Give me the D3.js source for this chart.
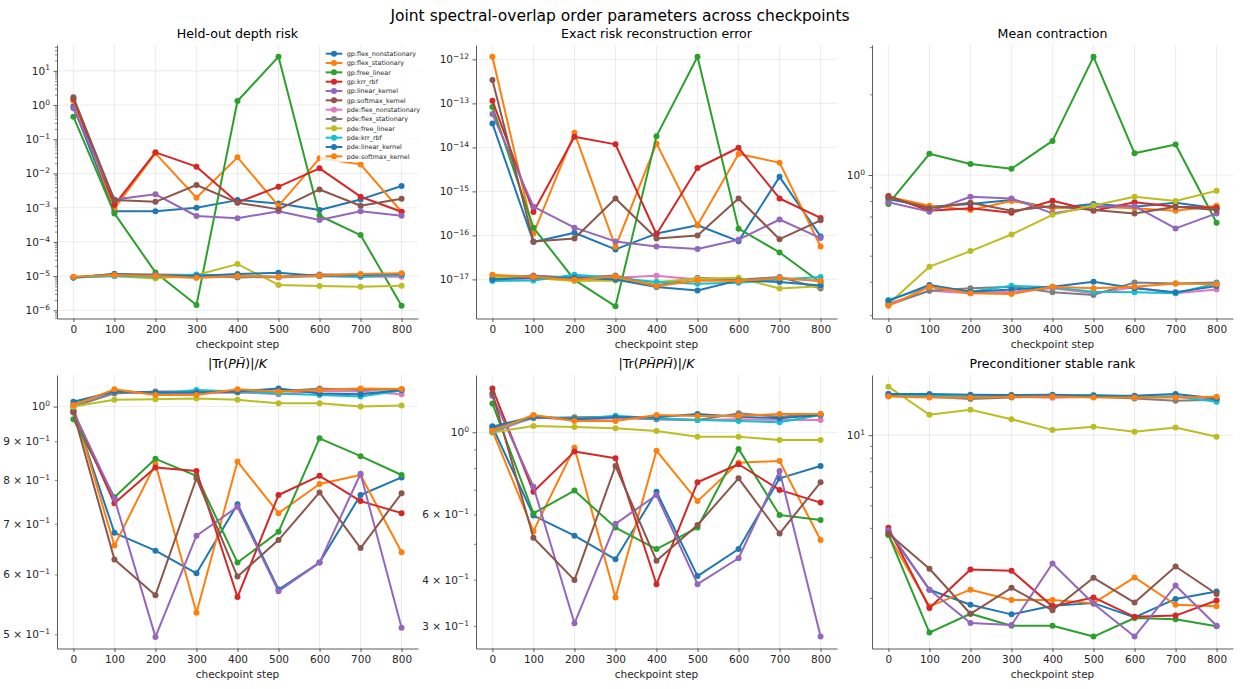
<!DOCTYPE html>
<html><head><meta charset="utf-8">
<script src="https://cdn.jsdelivr.net/npm/d3@7"></script>
<style>body{margin:0;background:#fff} svg{display:block} text{font-family:"DejaVu Sans",sans-serif}</style>
</head><body><svg id="c" width="1240" height="689"></svg>
<script>
// ---------------- data ----------------
const steps = [0, 100, 200, 300, 400, 500, 600, 700, 800];
const seriesNames = ["gp:flex_nonstationary","gp:flex_stationary","gp:free_linear","gp:krr_rbf","gp:linear_kernel","gp:softmax_kernel",
  "pde:flex_nonstationary","pde:flex_stationary","pde:free_linear","pde:krr_rbf","pde:linear_kernel","pde:softmax_kernel"];
const seriesColors = ["#1f77b4","#ff7f0e","#2ca02c","#d62728","#9467bd","#8c564b","#e377c2","#7f7f7f","#bcbd22","#17becf","#1f77b4","#ff7f0e"];

const heldOutDepthRisk = [
  [0.9, 7.9e-4, 7.9e-4, 1.0e-3, 1.66e-3, 1.33e-3, 8.5e-4, 1.74e-3, 4.3e-3],
  [1.3, 9.5e-4, 0.0386, 1.95e-3, 0.0295, 1.12e-3, 0.0276, 0.0184, 7.6e-4],
  [0.456, 6.8e-4, 1.28e-5, 1.42e-6, 1.31, 25.9, 5.8e-4, 1.58e-4, 1.35e-6],
  [1.5, 1.2e-3, 0.0413, 0.0158, 1.42e-3, 4.1e-3, 0.0141, 2.09e-3, 7.6e-4],
  [0.80, 1.74e-3, 2.45e-3, 5.7e-4, 4.9e-4, 7.9e-4, 4.35e-4, 7.9e-4, 5.8e-4],
  [1.68, 1.66e-3, 1.48e-3, 4.6e-3, 1.4e-3, 8.9e-4, 3.4e-3, 1.14e-3, 1.83e-3],
  [9.1e-6, 1.07e-5, 9.6e-6, 9.1e-6, 9.6e-6, 9.1e-6, 1.0e-5, 9.6e-6, 9.6e-6],
  [9.1e-6, 1.15e-5, 1.12e-5, 1.07e-5, 9.1e-6, 9.6e-6, 1.12e-5, 1.12e-5, 1.15e-5],
  [9.1e-6, 1.0e-5, 8.5e-6, 1.07e-5, 2.24e-5, 5.5e-6, 5.1e-6, 4.9e-6, 5.2e-6],
  [9.1e-6, 1.0e-5, 9.6e-6, 1.12e-5, 1.0e-5, 9.6e-6, 1.0e-5, 9.6e-6, 1.07e-5],
  [9.1e-6, 1.15e-5, 1.02e-5, 1.0e-5, 1.15e-5, 1.25e-5, 1.0e-5, 1.07e-5, 1.15e-5],
  [9.6e-6, 1.07e-5, 1.0e-5, 8.9e-6, 1.0e-5, 9.6e-6, 1.02e-5, 1.15e-5, 1.2e-5]
];
const exactRiskError = [
  [3.5e-14, 7.1e-17, 1.15e-16, 4.8e-17, 1.1e-16, 1.7e-16, 7.4e-17, 2.14e-15, 9.5e-17],
  [1.15e-12, 1.1e-16, 2.14e-14, 5.5e-17, 1.23e-14, 1.7e-16, 7.1e-15, 4.5e-15, 5.6e-17],
  [8.3e-14, 1.5e-16, 9.8e-18, 2.45e-18, 1.8e-14, 1.15e-12, 1.42e-16, 4.1e-17, 8.5e-18],
  [1.15e-13, 3.4e-16, 1.74e-14, 1.17e-14, 1.06e-16, 3.4e-15, 9.8e-15, 6.9e-16, 2.5e-16],
  [5.7e-14, 4.5e-16, 1.5e-16, 7.3e-17, 5.6e-17, 4.9e-17, 8.0e-17, 2.3e-16, 8.7e-17],
  [3.4e-13, 7.3e-17, 8.5e-17, 6.9e-16, 8.5e-17, 1.0e-16, 6.9e-16, 8.2e-17, 2.2e-16],
  [1.03e-17, 1.03e-17, 1.13e-17, 1.09e-17, 1.21e-17, 1.0e-17, 9.5e-18, 1.09e-17, 9.2e-18],
  [1.09e-17, 1.23e-17, 1.09e-17, 1.23e-17, 7.3e-18, 1.09e-17, 9.8e-18, 1.13e-17, 6.2e-18],
  [1.13e-17, 1.07e-17, 9.2e-18, 9.5e-18, 8.7e-18, 1.03e-17, 1.09e-17, 6.2e-18, 7.0e-18],
  [9.2e-18, 9.5e-18, 1.28e-17, 1.09e-17, 8.7e-18, 8.0e-18, 8.4e-18, 1.0e-17, 1.13e-17],
  [1.0e-17, 1.09e-17, 1.09e-17, 1.0e-17, 6.7e-18, 5.6e-18, 9.5e-18, 8.7e-18, 7.3e-18],
  [1.28e-17, 1.13e-17, 9.8e-18, 1.17e-17, 7.0e-18, 9.5e-18, 9.2e-18, 1.07e-17, 9.2e-18]
];
const meanContraction = [
  [0.811, 0.762, 0.779, 0.807, 0.751, 0.779, 0.762, 0.788, 0.751],
  [0.830, 0.768, 0.740, 0.800, 0.751, 0.762, 0.751, 0.736, 0.768],
  [0.78, 1.20, 1.10, 1.055, 1.34, 2.76, 1.205, 1.30, 0.664],
  [0.835, 0.736, 0.751, 0.723, 0.802, 0.736, 0.791, 0.762, 0.755],
  [0.791, 0.730, 0.830, 0.818, 0.719, 0.762, 0.766, 0.632, 0.719],
  [0.825, 0.751, 0.788, 0.736, 0.766, 0.740, 0.719, 0.762, 0.740],
  [0.332, 0.370, 0.362, 0.367, 0.378, 0.362, 0.381, 0.362, 0.374],
  [0.327, 0.370, 0.378, 0.383, 0.365, 0.357, 0.397, 0.394, 0.397],
  [0.33, 0.455, 0.52, 0.60, 0.71, 0.77, 0.83, 0.80, 0.874],
  [0.342, 0.383, 0.367, 0.386, 0.381, 0.367, 0.365, 0.362, 0.394],
  [0.339, 0.389, 0.367, 0.374, 0.383, 0.400, 0.378, 0.365, 0.385],
  [0.325, 0.383, 0.362, 0.360, 0.383, 0.378, 0.383, 0.394, 0.391]
];
const traceOverlap = [
  [0.99, 0.681, 0.645, 0.602, 0.743, 0.573, 0.622, 0.764, 0.806],
  [1.0, 0.655, 0.840, 0.534, 0.846, 0.723, 0.790, 0.812, 0.642],
  [0.962, 0.759, 0.853, 0.810, 0.622, 0.683, 0.908, 0.860, 0.812],
  [0.985, 0.745, 0.831, 0.822, 0.560, 0.764, 0.810, 0.750, 0.723],
  [0.985, 0.756, 0.496, 0.675, 0.737, 0.570, 0.622, 0.815, 0.510],
  [0.982, 0.628, 0.563, 0.804, 0.596, 0.666, 0.770, 0.650, 0.768],
  [1.0, 1.045, 1.041, 1.041, 1.045, 1.038, 1.049, 1.047, 1.038],
  [1.0, 1.041, 1.047, 1.047, 1.044, 1.047, 1.057, 1.052, 1.054],
  [1.0, 1.021, 1.023, 1.025, 1.021, 1.010, 1.010, 1.0, 1.003],
  [1.007, 1.050, 1.041, 1.052, 1.047, 1.041, 1.036, 1.031, 1.050],
  [1.015, 1.047, 1.044, 1.044, 1.047, 1.057, 1.041, 1.038, 1.052],
  [1.005, 1.054, 1.036, 1.036, 1.054, 1.047, 1.052, 1.057, 1.055]
];
const traceSquaredOverlap = [
  [1.036, 0.596, 0.526, 0.454, 0.691, 0.409, 0.484, 0.751, 0.811],
  [1.010, 0.541, 0.909, 0.358, 0.892, 0.652, 0.828, 0.837, 0.512],
  [1.197, 0.604, 0.696, 0.553, 0.484, 0.553, 0.902, 0.598, 0.580],
  [1.314, 0.691, 0.887, 0.851, 0.389, 0.733, 0.820, 0.699, 0.646],
  [1.253, 0.713, 0.305, 0.566, 0.677, 0.389, 0.457, 0.786, 0.281],
  [1.274, 0.519, 0.399, 0.811, 0.450, 0.562, 0.751, 0.533, 0.733],
  [1.0, 1.098, 1.079, 1.091, 1.084, 1.079, 1.084, 1.079, 1.079],
  [1.025, 1.091, 1.098, 1.102, 1.084, 1.079, 1.125, 1.102, 1.121],
  [0.998, 1.040, 1.034, 1.025, 1.008, 0.973, 0.973, 0.953, 0.953],
  [1.004, 1.107, 1.084, 1.109, 1.091, 1.079, 1.073, 1.064, 1.114],
  [1.036, 1.102, 1.084, 1.098, 1.098, 1.121, 1.102, 1.091, 1.114],
  [1.010, 1.114, 1.073, 1.073, 1.114, 1.107, 1.107, 1.121, 1.121]
];
const stableRank = [
  [3.87, 2.17, 1.87, 1.70, 1.85, 1.90, 1.65, 1.98, 2.13],
  [3.72, 1.84, 2.17, 1.96, 1.96, 1.90, 2.45, 1.87, 1.84],
  [3.74, 1.42, 1.71, 1.52, 1.52, 1.365, 1.64, 1.62, 1.51],
  [4.0, 1.81, 2.65, 2.62, 1.84, 2.01, 1.66, 1.68, 1.95],
  [3.91, 2.17, 1.56, 1.53, 2.81, 1.89, 1.365, 2.26, 1.52],
  [3.78, 2.67, 1.71, 2.21, 1.77, 2.44, 1.91, 2.73, 2.08],
  [14.77, 14.68, 14.53, 14.63, 14.48, 14.63, 14.53, 14.63, 14.39],
  [14.77, 14.63, 14.29, 14.53, 14.68, 14.68, 14.39, 14.06, 14.20],
  [16.16, 12.24, 12.86, 11.72, 10.54, 10.86, 10.34, 10.79, 9.84],
  [15.02, 14.77, 14.68, 14.77, 14.77, 14.88, 14.68, 14.68, 13.92],
  [15.02, 15.02, 14.92, 14.88, 14.92, 14.77, 14.77, 15.02, 14.39],
  [14.68, 14.53, 14.53, 14.63, 14.68, 14.53, 14.53, 14.53, 14.63]
];

// tick values
const ticksDepthRisk = [1e-6, 1e-5, 1e-4, 1e-3, 1e-2, 1e-1, 1, 10];
const ticksExactErr = [1e-17, 1e-16, 1e-15, 1e-14, 1e-13, 1e-12];
const ticksContraction = [1];
const ticksTrace = [1];
const ticksTraceLabeledMinor = [0.5, 0.6, 0.7, 0.8, 0.9];
const ticksTraceSq = [1];
const ticksTraceSqLabeledMinor = [0.3, 0.4, 0.6];
const ticksRank = [10];

const suptitle = "Joint spectral-overlap order parameters across checkpoints";
const xLabel = "checkpoint step";

// ---------------- helpers ----------------
function minorTicks(domain) {
  const out = [];
  const e0 = Math.floor(Math.log10(domain[0])) , e1 = Math.ceil(Math.log10(domain[1]));
  for (let e = e0; e <= e1; e++) for (let m = 2; m <= 9; m++) {
    const v = m * Math.pow(10, e);
    if (v >= domain[0] && v <= domain[1]) out.push(v);
  }
  return out;
}
function writeLogLabel(t, v) {
  const e = Math.round(Math.log10(v) - Math.log10(Math.round(v / Math.pow(10, Math.floor(Math.log10(v) + 1e-9)))));
  const ex = Math.floor(Math.log10(v) + 1e-9);
  const m = Math.round(v / Math.pow(10, ex));
  t.text(null);
  t.append("tspan").text(m === 1 ? "10" : (m + " \u00d7 10"));
  t.append("tspan").attr("dy", "-0.55em").attr("font-size", "0.72em").text(ex < 0 ? "\u2212" + (-ex) : String(ex));
}

const panels = [
  {title: [["Held-out depth risk", false]], data: heldOutDepthRisk, domain: [Math.pow(10, -6.24), Math.pow(10, 1.754)],
   major: ticksDepthRisk, minorLabeled: [], minor: true, legend: true},
  {title: [["Exact risk reconstruction error", false]], data: exactRiskError, domain: [Math.pow(10, -17.888), Math.pow(10, -11.674)],
   major: ticksExactErr, minorLabeled: [], minor: false},
  {title: [["Mean contraction", false]], data: meanContraction, domain: [0.2915, 3.055],
   major: ticksContraction, minorLabeled: [], minor: true},
  {title: [["|Tr(", false], ["P", true], ["H\u0303", true], [")|/", false], ["K", true]], data: traceOverlap, domain: [0.4788, 1.101],
   major: ticksTrace, minorLabeled: ticksTraceLabeledMinor, minor: true},
  {title: [["|Tr(", false], ["P", true], ["H\u0303", true], ["P", true], ["H\u0303", true], [")|/", false], ["K", true]], data: traceSquaredOverlap, domain: [0.2608, 1.428],
   major: ticksTraceSq, minorLabeled: ticksTraceSqLabeledMinor, minor: true},
  {title: [["Preconditioner stable rank", false]], data: stableRank, domain: [1.213, 18.14],
   major: ticksRank, minorLabeled: [], minor: true}
];

// ---------------- drawing ----------------
const svg = d3.select("#c");
svg.append("rect").attr("width", 1240).attr("height", 689).attr("fill", "#fff");
svg.append("text").attr("x", 620).attr("y", 21).attr("text-anchor", "middle")
  .attr("font-size", 15.5).attr("fill", "#000").text(suptitle);

const colX = [57, 476, 872], rowY = [45, 375], aw = 361, ah = 273.5;
const FS = 10.5, TXT = "#262626", SP = "#333";

panels.forEach((p, idx) => {
  const c = idx % 3, r = Math.floor(idx / 3);
  const g = svg.append("g").attr("transform", `translate(${colX[c]},${rowY[r]})`);
  const x = d3.scaleLinear().domain([-40, 840]).range([0, aw]);
  const y = d3.scaleLog().domain(p.domain).range([ah, 0]);

  // grid
  g.append("g").selectAll("line").data(steps).join("line")
    .attr("x1", d => x(d)).attr("x2", d => x(d)).attr("y1", 0).attr("y2", ah)
    .attr("stroke", "#b0b0b0").attr("stroke-opacity", 0.3).attr("stroke-width", 0.8);
  g.append("g").selectAll("line").data(p.major).join("line")
    .attr("x1", 0).attr("x2", aw).attr("y1", d => y(d)).attr("y2", d => y(d))
    .attr("stroke", "#b0b0b0").attr("stroke-opacity", 0.3).attr("stroke-width", 0.8);

  // series
  const line = d3.line().x((d, i) => x(steps[i])).y(d => y(d));
  p.data.forEach((vals, si) => {
    const sg = g.append("g");
    sg.append("path").datum(vals).attr("d", line).attr("fill", "none")
      .attr("stroke", seriesColors[si]).attr("stroke-width", 2).attr("stroke-linejoin", "round");
    sg.selectAll("circle").data(vals).join("circle")
      .attr("cx", (d, i) => x(steps[i])).attr("cy", d => y(d)).attr("r", 3).attr("fill", seriesColors[si]);
  });

  // x axis
  const gx = g.append("g").attr("transform", `translate(0,${ah})`)
    .call(d3.axisBottom(x).tickValues(steps).tickSize(3.5).tickPadding(3.5).tickSizeOuter(0).tickFormat(d3.format("d")));
  gx.selectAll("text").attr("font-size", FS).attr("fill", TXT).attr("font-family", "DejaVu Sans");
  gx.selectAll("line").attr("stroke", SP).attr("stroke-width", 0.8);
  gx.select(".domain").attr("stroke", SP).attr("stroke-width", 0.8);
  g.append("text").attr("x", aw / 2).attr("y", ah + 29).attr("text-anchor", "middle")
    .attr("font-size", FS).attr("fill", TXT).text(xLabel);

  // y minor axis
  if (p.minor) {
    const mt = minorTicks(p.domain);
    const gm = g.append("g").call(d3.axisLeft(y).tickValues(mt).tickSize(2).tickPadding(5).tickSizeOuter(0)
      .tickFormat(d => p.minorLabeled.some(v => Math.abs(v - d) < 1e-9 * Math.max(1, d)) ? "L" : ""));
    gm.select(".domain").remove();
    gm.selectAll("line").attr("stroke", SP).attr("stroke-width", 0.6);
    gm.selectAll("text").attr("font-size", FS).attr("fill", TXT).attr("font-family", "DejaVu Sans")
      .each(function(d) { const t = d3.select(this); if (t.text() === "L") writeLogLabel(t, d); });
  }
  // y major axis
  const gy = g.append("g").call(d3.axisLeft(y).tickValues(p.major).tickSize(3.5).tickPadding(3.5).tickSizeOuter(0).tickFormat(() => "L"));
  gy.selectAll("line").attr("stroke", SP).attr("stroke-width", 0.8);
  gy.select(".domain").attr("stroke", SP).attr("stroke-width", 0.8);
  gy.selectAll("text").attr("font-size", FS).attr("fill", TXT).attr("font-family", "DejaVu Sans")
    .each(function(d) { writeLogLabel(d3.select(this), d); });

  // title
  const tt = g.append("text").attr("x", aw / 2).attr("y", -7).attr("text-anchor", "middle")
    .attr("font-size", 12.6).attr("fill", "#000");
  p.title.forEach(([s, it]) => tt.append("tspan").attr("font-style", it ? "italic" : "normal").text(s));

  // legend
  if (p.legend) {
    const lg = g.append("g").attr("transform", `translate(${aw - 98},2)`);
    lg.append("rect").attr("x", 0).attr("y", 0).attr("width", 97).attr("height", 115).attr("rx", 2)
      .attr("fill", "#fff").attr("fill-opacity", 0.8).attr("stroke", "none");
    seriesNames.forEach((nm, i) => {
      const yy = 6.7 + i * 9.33;
      lg.append("line").attr("x1", 5.7).attr("x2", 22.3).attr("y1", yy).attr("y2", yy)
        .attr("stroke", seriesColors[i]).attr("stroke-width", 2);
      lg.append("circle").attr("cx", 14).attr("cy", yy).attr("r", 3).attr("fill", seriesColors[i]);
      lg.append("text").attr("x", 26.7).attr("y", yy).attr("dy", "0.35em").attr("font-size", 6.4)
        .attr("fill", TXT).text(nm);
    });
  }
});
</script></body></html>
